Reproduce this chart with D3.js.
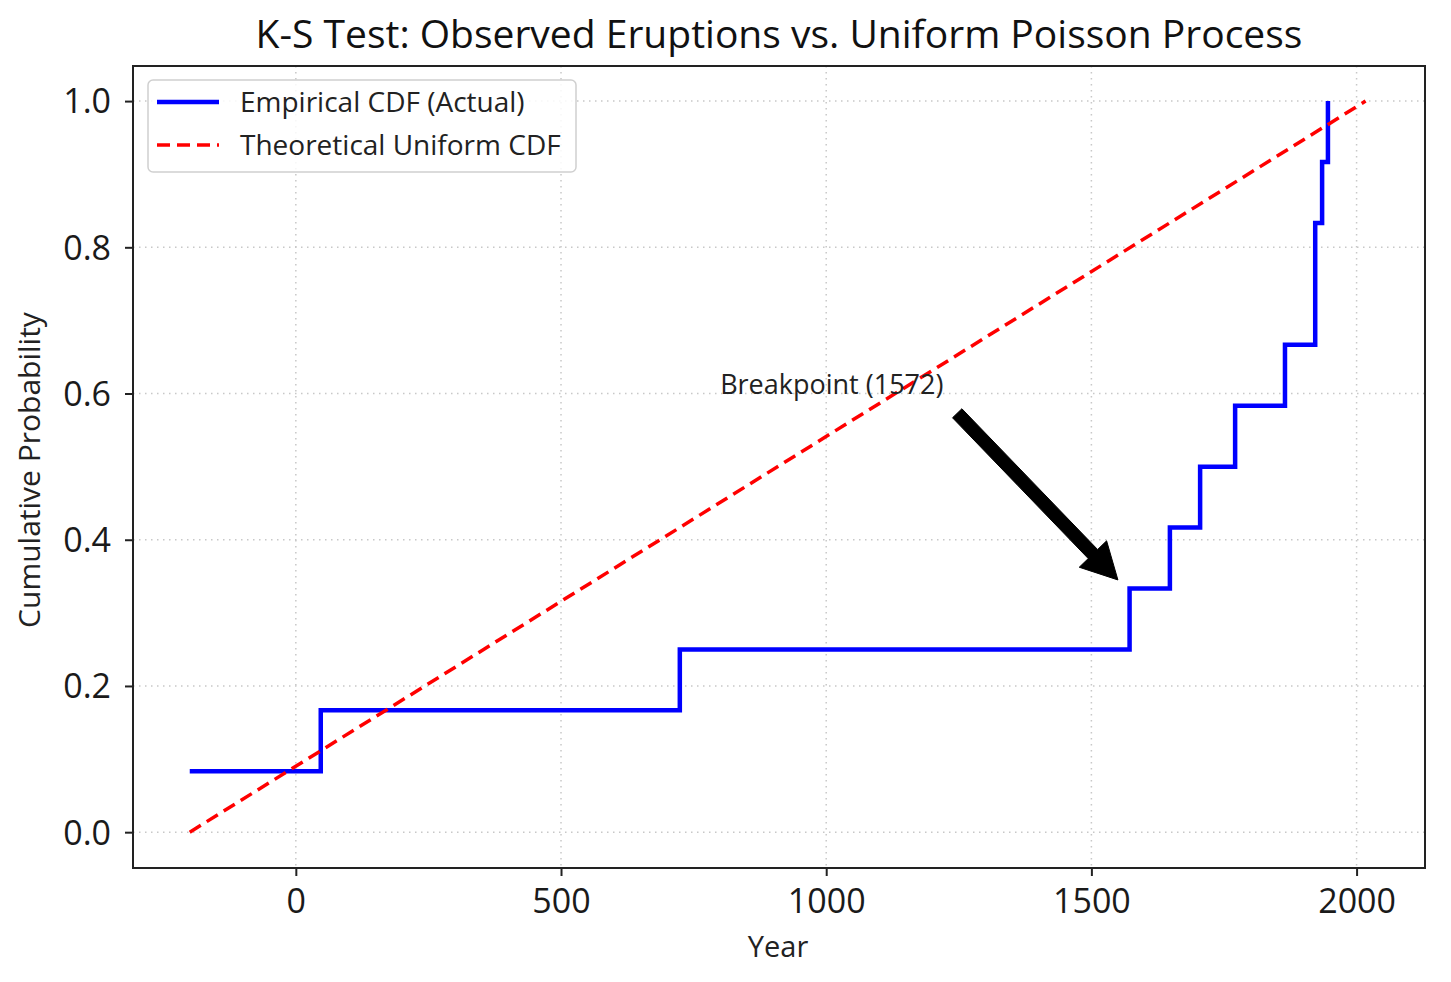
<!DOCTYPE html>
<html>
<head>
<meta charset="utf-8">
<script src="https://cdn.jsdelivr.net/npm/d3@7"></script>
<style>
  html, body { margin: 0; padding: 0; background: #fff; }
  svg { display: block; font-family: "Open Sans", sans-serif; }
</style>
</head>
<body>
<svg id="chart" width="1451" height="982"></svg>
<script>
// ---- data ----
const eruptionYears = [-200, 47, 724, 1572, 1648, 1705, 1771, 1865, 1922, 1922, 1935, 1946];
const theoreticalStart = [-200, 0];
const theoreticalEnd = [2017, 1];
const xTicks = [0, 500, 1000, 1500, 2000];
const yTicks = [0.0, 0.2, 0.4, 0.6, 0.8, 1.0];
const xLimits = [-307, 2129];
const yLimits = [-0.049, 1.048];
const annotationText = "Breakpoint (1572)";
const annotationTextPos = [800, 0.6];
const annotationArrowFrom = [1247, 0.573];
const annotationArrowTo = [1550, 0.345];
const legendLabels = ["Empirical CDF (Actual)", "Theoretical Uniform CDF"];
const titleText = "K-S Test: Observed Eruptions vs. Uniform Poisson Process";

// ---- layout ----
const svg = d3.select("#chart");
const plot = { left: 133, right: 1425, top: 66, bottom: 868 };

const x = d3.scaleLinear().domain(xLimits).range([plot.left, plot.right]);
const y = d3.scaleLinear().domain(yLimits).range([plot.bottom, plot.top]);

const n = eruptionYears.length;
const ecdf = eruptionYears.map((yr, i) => [yr, (i + 1) / n]);

// grid
const grid = svg.append("g");
grid.selectAll(".gx").data(xTicks).join("line")
  .attr("x1", d => x(d)).attr("x2", d => x(d))
  .attr("y1", plot.top).attr("y2", plot.bottom)
  .attr("stroke", "#c8c8c8").attr("stroke-width", 1.5).attr("stroke-dasharray", "1.5,4.5");
grid.selectAll(".gy").data(yTicks).join("line")
  .attr("y1", d => y(d)).attr("y2", d => y(d))
  .attr("x1", plot.left).attr("x2", plot.right)
  .attr("stroke", "#c8c8c8").attr("stroke-width", 1.5).attr("stroke-dasharray", "1.5,4.5");

// clip
svg.append("clipPath").attr("id", "clip").append("rect")
  .attr("x", plot.left).attr("y", plot.top)
  .attr("width", plot.right - plot.left).attr("height", plot.bottom - plot.top);

const content = svg.append("g").attr("clip-path", "url(#clip)");

// empirical CDF
const stepLine = d3.line().x(d => x(d[0])).y(d => y(d[1])).curve(d3.curveStepAfter);
content.append("path").datum(ecdf)
  .attr("d", stepLine)
  .attr("fill", "none").attr("stroke", "#0000ff").attr("stroke-width", 4.5)
  .attr("stroke-linejoin", "miter");

// theoretical uniform CDF
const straight = d3.line().x(d => x(d[0])).y(d => y(d[1]));
content.append("path").datum([theoreticalStart, theoreticalEnd])
  .attr("d", straight)
  .attr("fill", "none").attr("stroke", "#ff0000").attr("stroke-width", 3.5)
  .attr("stroke-dasharray", "13,7");

// axes
const xAxis = d3.axisBottom(x).tickValues(xTicks).tickFormat(d3.format("d")).tickSize(8).tickPadding(8);
const yAxis = d3.axisLeft(y).tickValues(yTicks).tickFormat(d3.format(".1f")).tickSize(8).tickPadding(14);

const gx = svg.append("g").attr("transform", `translate(0,${plot.bottom})`).call(xAxis);
const gy = svg.append("g").attr("transform", `translate(${plot.left},0)`).call(yAxis);
[gx, gy].forEach(g => {
  g.select(".domain").remove();
  g.selectAll(".tick line").attr("stroke", "#222").attr("stroke-width", 2);
  g.selectAll(".tick text").attr("fill", "#1a1a1a").style("font-size", "34px")
    .style("font-family", "Open Sans, sans-serif").style("font-weight", 500);
});
gx.selectAll(".tick text").attr("dy", "0.85em");
gy.selectAll(".tick text").attr("dy", "0.35em");

// frame
svg.append("rect")
  .attr("x", plot.left).attr("y", plot.top)
  .attr("width", plot.right - plot.left).attr("height", plot.bottom - plot.top)
  .attr("fill", "none").attr("stroke", "#222").attr("stroke-width", 2);

// annotation
svg.append("text")
  .attr("x", x(annotationTextPos[0])).attr("y", y(annotationTextPos[1]))
  .attr("fill", "#222").style("font-size", "27px").style("font-weight", 500)
  .text(annotationText);

(function drawArrow() {
  const x0 = x(annotationArrowFrom[0]), y0 = y(annotationArrowFrom[1]);
  const x1 = x(annotationArrowTo[0]), y1 = y(annotationArrowTo[1]);
  const dx = x1 - x0, dy = y1 - y0, L = Math.hypot(dx, dy);
  const ux = dx / L, uy = dy / L, px = -uy, py = ux;
  const shaftW = 13, headW = 38, headL = 36;
  const bx = x1 - ux * headL, by = y1 - uy * headL;
  const pts = [
    [x0 + px * shaftW / 2, y0 + py * shaftW / 2],
    [bx + px * shaftW / 2, by + py * shaftW / 2],
    [bx + px * headW / 2, by + py * headW / 2],
    [x1, y1],
    [bx - px * headW / 2, by - py * headW / 2],
    [bx - px * shaftW / 2, by - py * shaftW / 2],
    [x0 - px * shaftW / 2, y0 - py * shaftW / 2]
  ];
  svg.append("polygon").attr("points", pts.map(p => p.join(",")).join(" "))
    .attr("fill", "#000").attr("stroke", "#000").attr("stroke-width", 1).attr("stroke-linejoin", "miter");
})();

// title & labels
svg.append("text").attr("x", 779).attr("y", 48)
  .attr("text-anchor", "middle").attr("fill", "#111").style("font-size", "39px").style("font-weight", 500)
  .text(titleText);
svg.append("text").attr("x", 778).attr("y", 957)
  .attr("text-anchor", "middle").attr("fill", "#222").style("font-size", "29px").style("font-weight", 500)
  .text("Year");
svg.append("text").attr("transform", `translate(40,${(plot.top + plot.bottom) / 2 + 3}) rotate(-90)`)
  .attr("text-anchor", "middle").attr("fill", "#222").style("font-size", "30px").style("font-weight", 500)
  .text("Cumulative Probability");

// legend
const legend = svg.append("g");
legend.append("rect").attr("x", 148).attr("y", 80).attr("width", 428).attr("height", 92)
  .attr("rx", 5).attr("fill", "#fff").attr("fill-opacity", 0.85)
  .attr("stroke", "#d0d0d0").attr("stroke-width", 1.5);
const legendStyles = [
  { color: "#0000ff", width: 4.5, dash: null },
  { color: "#ff0000", width: 3.5, dash: "13,7" }
];
legendLabels.forEach((lab, i) => {
  const ly = 102 + i * 43;
  legend.append("line").attr("x1", 157).attr("x2", 219).attr("y1", ly).attr("y2", ly)
    .attr("stroke", legendStyles[i].color).attr("stroke-width", legendStyles[i].width)
    .attr("stroke-dasharray", legendStyles[i].dash);
  legend.append("text").attr("x", 240).attr("y", ly + 10)
    .attr("fill", "#222").style("font-size", "28px").style("font-weight", 500).text(lab);
});
</script>
</body>
</html>
